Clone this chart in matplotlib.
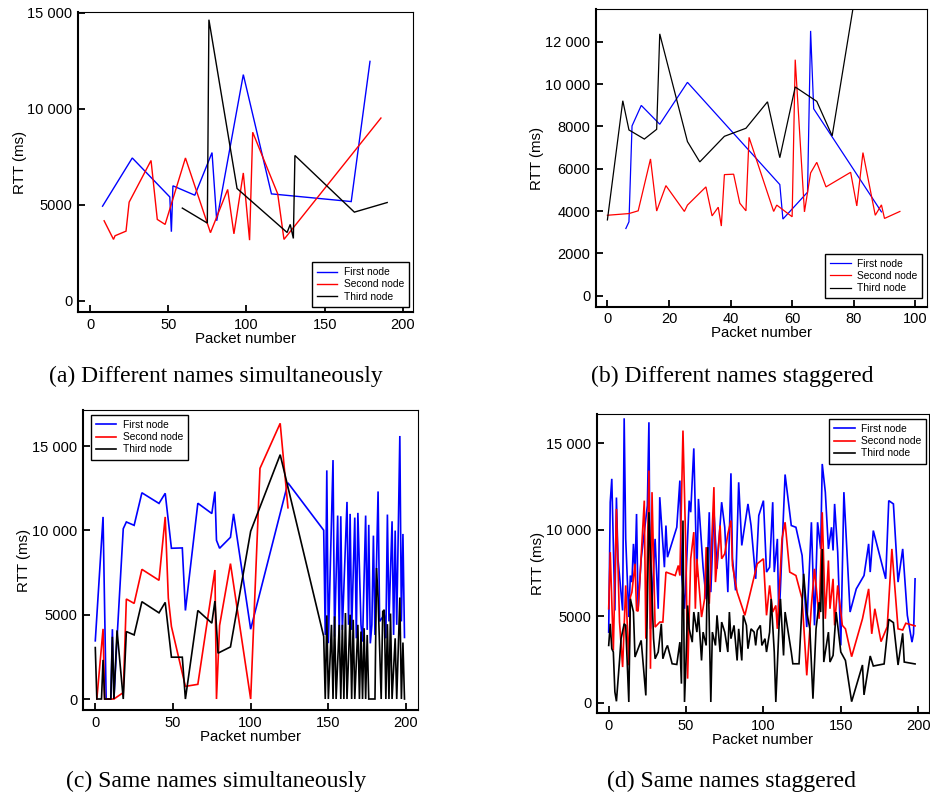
import matplotlib
matplotlib.use("Agg")
import matplotlib.pyplot as plt

plt.rcParams['font.family'] = ['Liberation Sans', 'DejaVu Sans']

# (a) different names, simultaneously
a_first_x = [8, 27, 51, 52, 53, 67, 78, 81, 98, 116, 167, 179]
a_first_y = [4920, 7430, 5400, 3590, 5980, 5490, 7710, 4160, 11770, 5560, 5160, 12460]
a_second_x = [9, 15, 16, 23, 25, 39, 43, 48, 61, 77, 88, 92, 98, 102, 104, 120, 124, 186]
a_second_y = [4160, 3190, 3380, 3620, 5130, 7300, 4230, 3970, 7430, 3540, 5790, 3480,
              6650, 3150, 8770, 5560, 3190, 9510]
a_third_x = [59, 75, 76, 94, 126, 128, 130, 131, 169, 190]
a_third_y = [4820, 4040, 14630, 5840, 3550, 3970, 3240, 7560, 4610, 5110]

# (b) different names, staggered
b_first_x = [6, 7, 8, 11, 17, 26, 56, 57, 65, 66, 67, 89]
b_first_y = [3175, 3490, 8020, 8990, 8100, 10080, 5250, 3620, 4890, 12510, 8830, 3960]
b_second_x = [0, 7, 10, 14, 16, 19, 25, 26, 32, 34, 36, 37, 38, 41, 43, 45, 46, 54, 55,
              60, 61, 64, 66, 68, 71, 79, 81, 83, 87, 89, 90, 95]
b_second_y = [3800, 3880, 4010, 6460, 4000, 5200, 3980, 4280, 5140, 3770, 4180, 3290,
              5720, 5740, 4370, 4010, 7480, 3980, 4280, 3730, 11150, 3960, 5800, 6300,
              5140, 5830, 4240, 6760, 3800, 4290, 3650, 3980]
b_third_x = [0, 5, 7, 12, 16, 17, 26, 30, 38, 45, 52, 56, 61, 68, 73, 81]
b_third_y = [3580, 9210, 7830, 7400, 7860, 12370, 7280, 6320, 7530, 7910, 9160, 6520,
             9860, 9180, 7550, 14670]

# (c) same names, simultaneously
c_first_x = [0, 5, 7, 10, 11, 12, 14, 18, 20, 25, 30, 41, 45, 49, 56, 58, 66, 75, 77, 78,
             80, 87, 89, 100, 124, 147, 148, 149, 150, 153, 154, 156, 157, 158, 159, 162,
             163, 164, 165, 167, 168, 169, 171, 172, 174, 175, 176, 177, 178, 179, 180,
             182, 183, 186, 187, 188, 189, 191, 192, 193, 194, 196, 197, 198, 199]
c_first_y = [3450, 10800, 0, 0, 4140, 0, 3600, 10100, 10500, 10300, 12230, 11600, 12200,
             8940, 8960, 5250, 11610, 11000, 12300, 9410, 8940, 9590, 10980, 4140, 12820,
             10010, 3800, 13560, 3310, 14170, 3700, 10880, 3600, 10840, 4100, 11690, 4400,
             10980, 4100, 10760, 3600, 11040, 4400, 3400, 10880, 4100, 10330, 3300, 4400,
             9690, 3800, 12310, 4600, 5000, 3600, 10940, 4600, 10540, 3800, 9990, 4400,
             15600, 4600, 9790, 3650]
c_second_x = [1, 5, 6, 12, 18, 20, 25, 30, 41, 45, 47, 49, 58, 66, 77, 78, 80, 87, 100,
              106, 119, 124]
c_second_y = [0, 4160, 0, 0, 380, 5930, 5670, 7690, 7040, 10800, 5990, 4300, 750, 870,
              7650, 0, 4360, 8030, 0, 13680, 16350, 11340]
c_third_x = [0, 1, 4, 5, 6, 10, 11, 12, 14, 18, 20, 25, 30, 41, 45, 49, 56, 58, 66, 75,
             77, 79, 87, 100, 119, 147, 148, 149, 150, 152, 153, 154, 155, 157, 158, 159,
             160, 161, 162, 164, 165, 166, 167, 169, 170, 171, 172, 173, 174, 175, 176,
             180, 181, 182, 184, 185, 186, 187, 188, 189, 190, 191, 193, 194, 196, 197,
             198, 199]
c_third_y = [3050, 0, 0, 2320, 0, 0, 3690, 0, 4070, 0, 4000, 3800, 5770, 5110, 5730, 2480,
             2480, 0, 5250, 4500, 5810, 2720, 3090, 9950, 14490, 3710, 0, 4960, 0, 4400, 0,
             4900, 0, 4400, 0, 4400, 0, 5100, 0, 5000, 0, 4700, 0, 4400, 0, 4000, 0, 4200,
             0, 3800, 0, 0, 7770, 5990, 0, 5190, 5290, 0, 4440, 0, 5070, 0, 3600, 0, 6020,
             0, 3350, 0]

# (d) same names, staggered
d_first_x = [0, 1, 2, 4, 5, 6, 9, 10, 11, 13, 14, 15, 16, 17, 18, 19, 21, 25, 26, 27, 30,
             32, 33, 36, 37, 38, 44, 46, 47, 49, 50, 52, 53, 55, 57, 58, 61, 63, 65, 66,
             68, 70, 73, 75, 77, 79, 80, 82, 84, 86, 90, 92, 95, 97, 100, 102, 104, 106,
             107, 109, 110, 114, 118, 121, 125, 128, 131, 133, 135, 137, 138, 140, 142,
             144, 145, 146, 148, 150, 152, 156, 160, 165, 168, 169, 171, 179, 181, 184,
             187, 190, 193, 196, 197, 198]
d_first_y = [4080, 11590, 12940, 5330, 11860, 8320, 5330, 16440, 9470, 4950, 7350, 6970,
             9180, 7550, 10910, 5430, 8320, 11400, 16210, 4270, 9470, 5430, 11880, 7830,
             10240, 8410, 10140, 12840, 7550, 5430, 7350, 11680, 11010, 14700, 7260, 11780,
             7830, 6000, 11010, 6390, 11100, 7740, 11590, 10140, 6390, 13260, 8320, 6490,
             12740, 9090, 11490, 10240, 7160, 10820, 11680, 7550, 7830, 11590, 7550, 9470,
             4470, 13190, 10240, 10140, 8510, 4370, 10430, 4470, 10430, 8890, 13800, 12170,
             8890, 10140, 8800, 11490, 8700, 3310, 12170, 5240, 6580, 7350, 9180, 7550,
             9950, 7160, 11680, 11490, 6970, 8890, 5050, 3500, 3980, 7160]
d_second_x = [0, 1, 3, 5, 7, 9, 11, 13, 14, 15, 17, 18, 19, 23, 24, 26, 27, 28, 30, 33,
              35, 37, 43, 45, 46, 48, 50, 51, 53, 55, 56, 57, 60, 62, 63, 65, 68, 69, 72,
              73, 75, 77, 79, 80, 83, 88, 96, 100, 102, 104, 106, 108, 109, 112, 114, 117,
              121, 125, 128, 131, 133, 136, 138, 140, 142, 143, 145, 146, 148, 151, 153,
              157, 164, 168, 170, 172, 176, 180, 183, 187, 190, 192, 198]
d_second_y = [5430, 8700, 3020, 11200, 4660, 2060, 6780, 2160, 6100, 6390, 8030, 5330,
              5290, 11680, 3700, 13420, 1960, 12170, 4370, 4660, 4660, 7550, 7350, 7930,
              7350, 15730, 8320, 1390, 8320, 9860, 5430, 8320, 4950, 6000, 8990, 5720,
              12460, 6970, 10240, 8320, 8610, 9760, 10530, 7930, 6390, 5050, 8030, 8320,
              5050, 6780, 5240, 5620, 4270, 9470, 10430, 7550, 7350, 6000, 1580, 5620, 7740,
              4850, 11010, 4850, 8220, 5430, 7160, 4470, 6780, 4470, 4270, 2660, 4850, 6580,
              3980, 5430, 3530, 4390, 8890, 4270, 4200, 4590, 4440]
d_third_x = [0, 1, 2, 3, 4, 5, 7, 8, 10, 11, 13, 14, 16, 17, 19, 21, 24, 26, 29, 30, 32,
             34, 35, 37, 38, 41, 44, 46, 47, 48, 49, 50, 51, 52, 54, 55, 57, 58, 60, 61,
             63, 64, 66, 67, 69, 70, 72, 73, 75, 77, 78, 79, 81, 83, 84, 86, 87, 89, 90,
             92, 94, 95, 96, 98, 99, 101, 102, 104, 105, 107, 108, 110, 111, 113, 114, 116,
             118, 119, 123, 126, 128, 130, 132, 134, 136, 137, 138, 139, 140, 142, 143,
             145, 147, 150, 153, 157, 164, 165, 169, 171, 178, 181, 184, 187, 190, 191, 198]
d_third_y = [3310, 4560, 3120, 2930, 620, 80, 2440, 3700, 4560, 4470, 40, 6000, 5240, 2640,
             3120, 3600, 420, 11010, 3700, 2540, 2930, 4560, 2540, 3120, 3310, 2250, 2210,
             3500, 1100, 10530, 40, 2540, 5620, 4270, 3500, 5240, 4080, 5240, 2440, 4080,
             3310, 8990, 40, 4080, 3310, 5050, 2930, 4660, 4080, 2930, 5240, 3700, 4470,
             2440, 4270, 2440, 5050, 4470, 3120, 4270, 4080, 3310, 4180, 4470, 3310, 3700,
             2930, 4080, 6000, 2930, 40, 4270, 6000, 2730, 5240, 4080, 2930, 2250, 2250,
             7450, 5240, 4270, 230, 4270, 5810, 5240, 8890, 2350, 2930, 4080, 2350, 2730,
             5240, 2930, 2440, 60, 2180, 450, 2700, 2120, 2240, 4820, 4630, 2180, 4010,
             2350, 2240]

series_names = ['First node', 'Second node', 'Third node']
series_colors = ['#0000ff', '#ff0000', '#000000']

ticks_200 = [0, 50, 100, 150, 200]
ticks_100 = [0, 20, 40, 60, 80, 100]
yt_5k = [0, 5000, 10000, 15000]
yt_5k_labels = ['0', '5000', '10 000', '15 000']
yt_2k = [0, 2000, 4000, 6000, 8000, 10000, 12000]
yt_2k_labels = ['0', '2000', '4000', '6000', '8000', '10 000', '12 000']

captions = ['(a) Different names simultaneously', '(b) Different names staggered',
            '(c) Same names simultaneously', '(d) Same names staggered']

W, H = 930, 794
fig = plt.figure(figsize=(W / 100, H / 100), dpi=100)


def panel(box, xlim, ylim, xt, yt, ytl, xs, ys, lw, leg_loc, leg_anchor):
    # box given in pixels: left, top, right, bottom
    l, t, r, b = box
    ax = fig.add_axes([l / W, 1 - b / H, (r - l) / W, (b - t) / H])
    for x, y, name, c in zip(xs, ys, series_names, series_colors):
        ax.plot(x, y, color=c, lw=lw, label=name, solid_joinstyle='miter')
    ax.set_xlim(xlim)
    ax.set_ylim(ylim)
    ax.set_xticks(xt)
    ax.set_yticks(yt)
    ax.set_yticklabels(ytl)
    ax.tick_params(direction='in', length=5, width=1.3, labelsize=10.5, pad=4,
                   top=False, right=False)
    for s in ['left', 'bottom']:
        ax.spines[s].set_linewidth(1.5)
    for s in ['top', 'right']:
        ax.spines[s].set_linewidth(0.8)
    ax.set_xlabel('Packet number', fontsize=10.8, labelpad=0)
    ax.set_ylabel('RTT (ms)', fontsize=10.8, labelpad=0.5)
    leg = ax.legend(loc=leg_loc, bbox_to_anchor=leg_anchor, fontsize=7.4, fancybox=False,
                    edgecolor='black', framealpha=1, handlelength=2.0, handletextpad=0.6,
                    labelspacing=0.22, borderpad=0.5, borderaxespad=0)
    leg.get_frame().set_linewidth(1.0)
    return ax


panel((78, 12, 413, 312), (-7.7, 206.5), (-590, 15030), ticks_200, yt_5k, yt_5k_labels,
      [a_first_x, a_second_x, a_third_x], [a_first_y, a_second_y, a_third_y], 1.0,
      'lower right', (0.988, 0.017))
panel((595.7, 9.3, 927.3, 306.7), (-3.8, 103.9), (-520, 13530), ticks_100, yt_2k, yt_2k_labels,
      [b_first_x, b_second_x, b_third_x], [b_first_y, b_second_y, b_third_y], 0.9,
      'lower right', (0.985, 0.028))
panel((82.7, 410, 417.7, 710), (-8.1, 207.5), (-652, 17140), ticks_200, yt_5k, yt_5k_labels,
      [c_first_x, c_second_x, c_third_x], [c_first_y, c_second_y, c_third_y], 1.2,
      'upper left', (0.024, 0.984))
panel((596.7, 414.3, 929, 713.3), (-7.75, 207), (-613, 16670), ticks_200, yt_5k, yt_5k_labels,
      [d_first_x, d_second_x, d_third_x], [d_first_y, d_second_y, d_third_y], 1.2,
      'upper right', (0.992, 0.985))

cap_pos = [(216, 376), (732, 376), (216, 781), (731, 781)]
for txt, (cx, cy) in zip(captions, cap_pos):
    fig.text(cx / W, 1 - cy / H, txt, ha='center', va='center', fontsize=17,
             family='Liberation Serif')

fig.savefig('out.png', dpi=100)
